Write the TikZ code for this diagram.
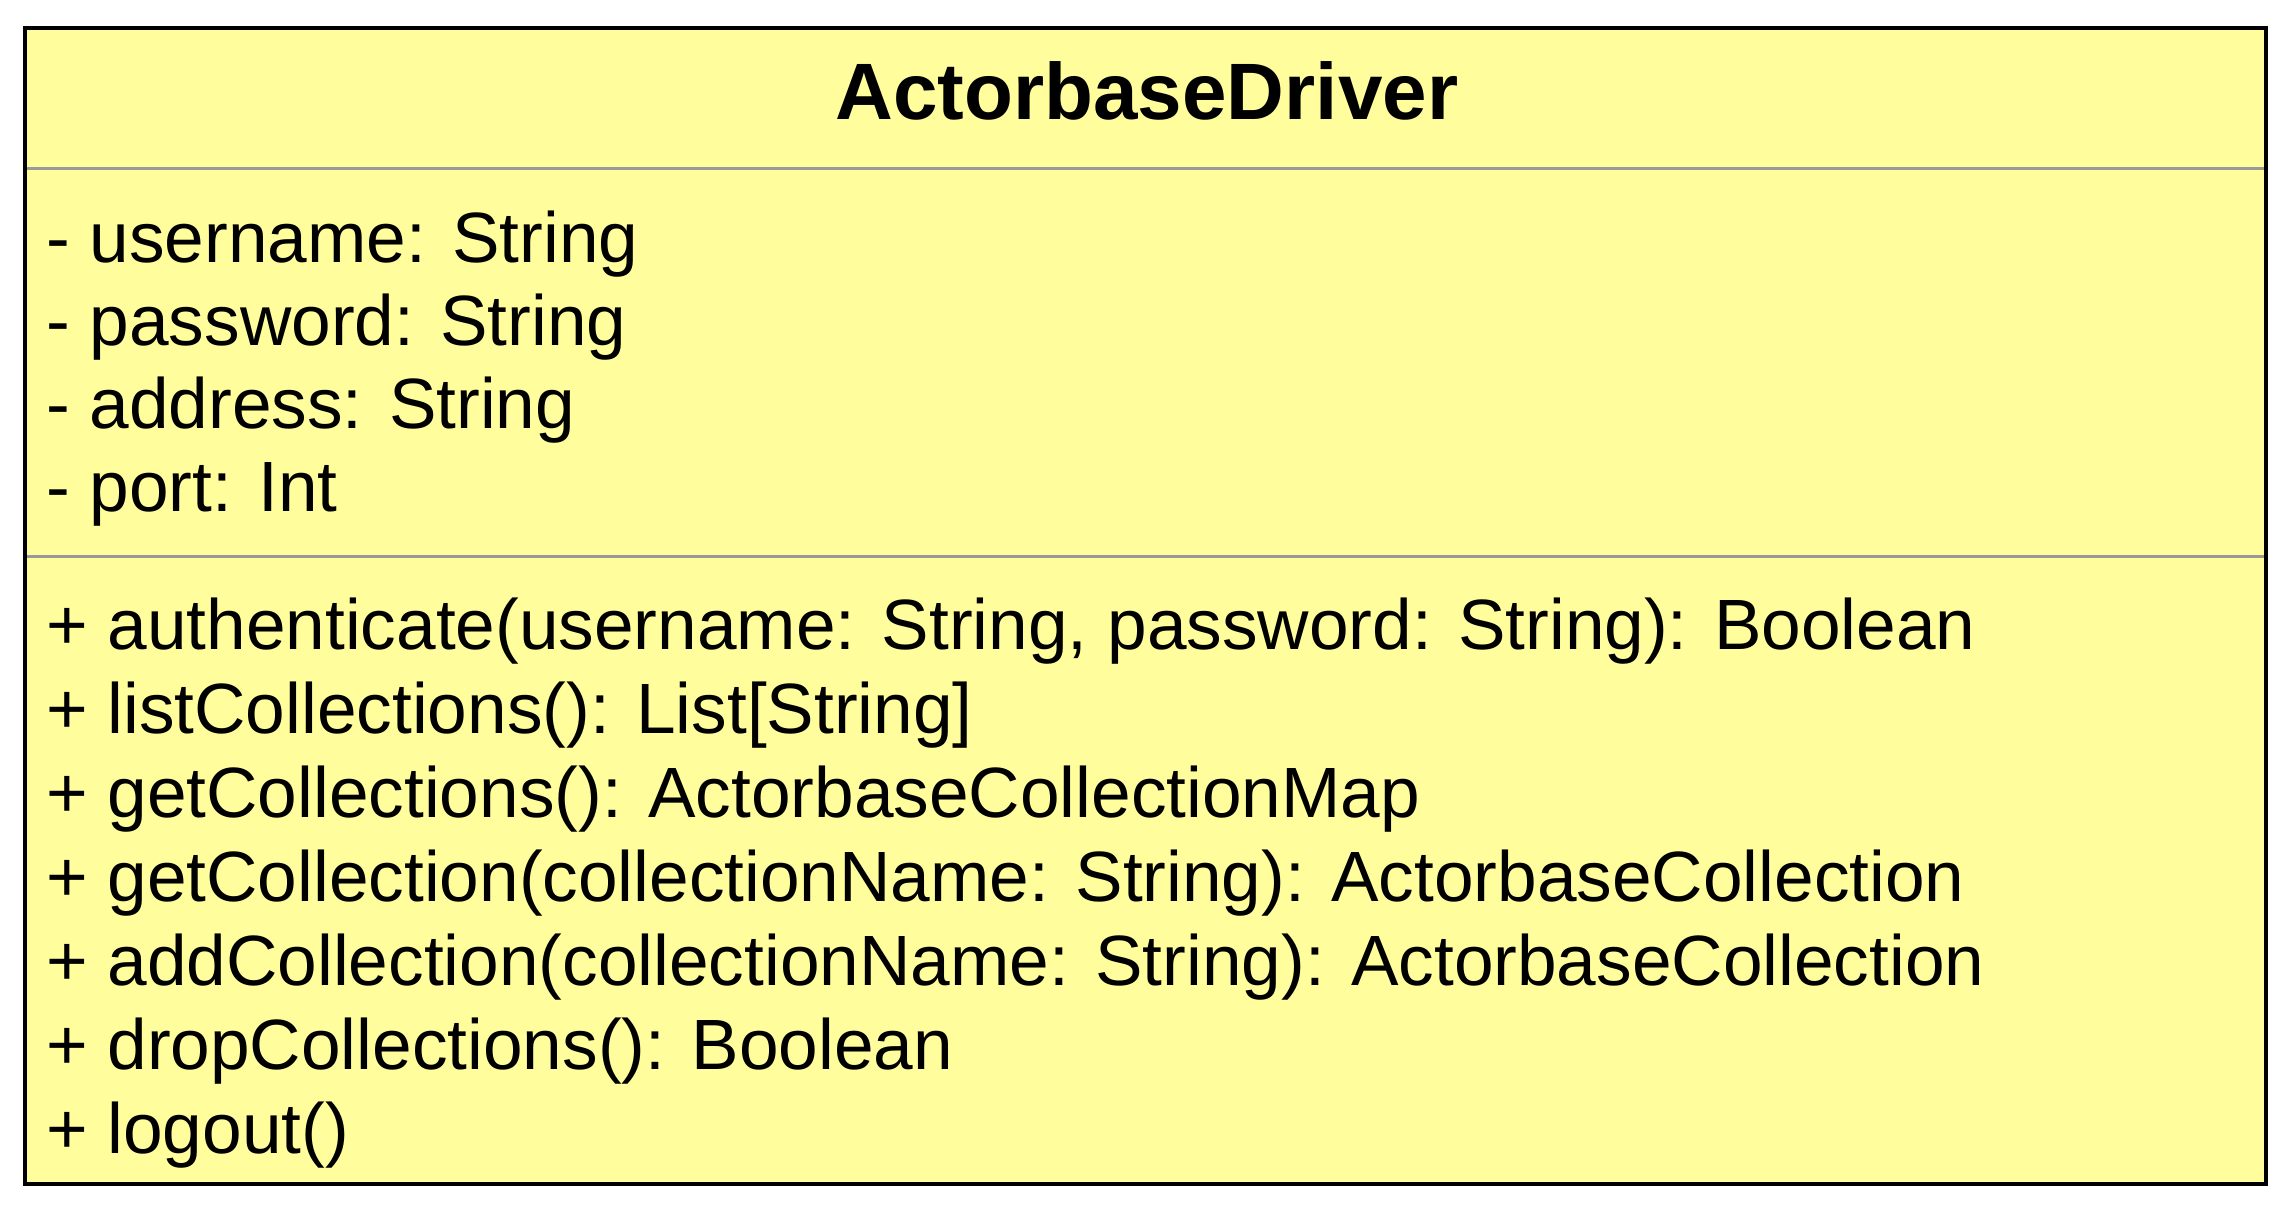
\documentclass[tikz,border=0pt]{standalone}
\usepackage{fontspec}
\setmainfont{Liberation Sans}
\definecolor{classfill}{HTML}{FFFD9C}
\definecolor{sepgray}{HTML}{999999}
\begin{document}
\begin{tikzpicture}[x=1pt,y=-1pt,
  member/.style={anchor=base west,inner sep=0pt,font=\fontsize{71.2}{84}\selectfont},
  titletext/.style={anchor=base,inner sep=0pt,font=\fontsize{80}{90}\selectfont\bfseries},
  sepline/.style={draw=sepgray,line width=3pt},
  classbox/.style={draw=black,line width=4pt,fill=classfill}]
\useasboundingbox (0,0) rectangle (2292,1208);
\path[classbox] (25,28) rectangle (2266,1184);
\coordinate (s1l) at (25,168);
\coordinate (s1r) at (2266,168);
\coordinate (s2l) at (25,556);
\coordinate (s2r) at (2266,556);
\draw[sepline] (s1l) -- (s1r);
\draw[sepline] (s2l) -- (s2r);
\draw[black,line width=4pt] (25,28) rectangle (2266,1184);
\node[titletext] (title) at (1147,119) {ActorbaseDriver};
\node[member] (a1) at (46,262) {- username: String};
\node[member] (a2) at (46,345) {- password: String};
\node[member] (a3) at (46,428) {- address: String};
\node[member] (a4) at (46,511) {- port: Int};
\node[member] (m1) at (46,649) {+ authenticate(username: String, password: String): Boolean};
\node[member] (m2) at (46,733) {+ listCollections(): List[String]};
\node[member] (m3) at (46,817) {+ getCollections(): ActorbaseCollectionMap};
\node[member] (m4) at (46,901) {+ getCollection(collectionName: String): ActorbaseCollection};
\node[member] (m5) at (46,985) {+ addCollection(collectionName: String): ActorbaseCollection};
\node[member] (m6) at (46,1069) {+ dropCollections(): Boolean};
\node[member] (m7) at (46,1153) {+ logout()};
\end{tikzpicture}
\end{document}
